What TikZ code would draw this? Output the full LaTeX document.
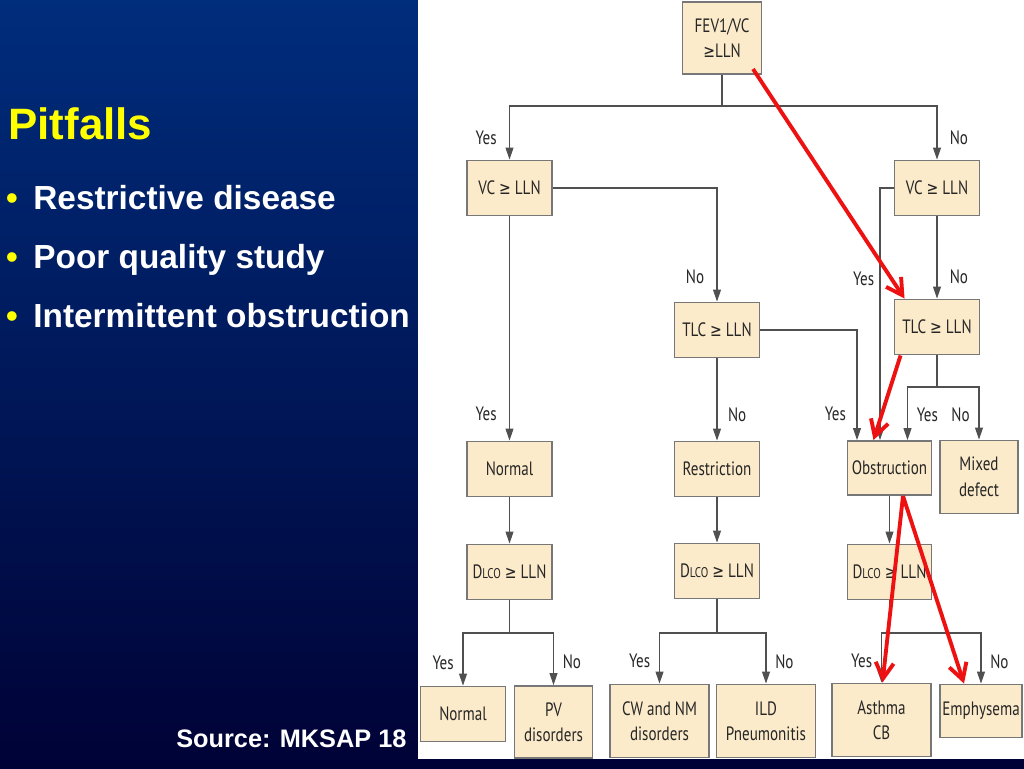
\documentclass[tikz,border=0pt]{standalone}
\usepackage{fontspec}
\setmainfont{Liberation Sans}
\newfontfamily\chartfont[FakeStretch=0.78]{PT Sans}
\newfontfamily\symfont[FakeStretch=0.8]{DejaVu Sans}
\usetikzlibrary{arrows.meta,positioning,calc}
\definecolor{SlideTop}{HTML}{002D7C}
\definecolor{SlideMid}{HTML}{001655}
\definecolor{SlideBottom}{HTML}{000236}
\definecolor{ChartFill}{HTML}{FCEBCA}
\definecolor{ChartEdge}{HTML}{777777}
\definecolor{ChartLine}{HTML}{505050}
\definecolor{PathRed}{HTML}{EE1111}
\definecolor{TitleYellow}{HTML}{FFFF00}
\newcommand{\dlco}{D{\fontsize{8}{9}\selectfont LCO}}
\newcommand{\atleast}{{\symfont\fontsize{10}{12}\selectfont ≥}}

\begin{document}
\begin{tikzpicture}[
  x=0.02cm,y=-0.02cm,
  box/.style={draw=ChartEdge,line width=1.1pt,fill=ChartFill,
    minimum width=1.7cm,minimum height=1.1cm,align=center,inner sep=1pt,
    font=\chartfont\fontsize{11}{14.5}\selectfont,text=black!85},
  lab/.style={font=\chartfont\fontsize{11}{12}\selectfont,
    text=black!85,inner sep=2pt},
  link/.style={draw=ChartLine,line width=0.6pt},
  arr/.style={link,-{Triangle[length=2.4mm,width=1.6mm]}},
  hit/.style={draw=PathRed,line width=2.2pt,
    -{Straight Barb[length=3.2mm,width=3.6mm]}},
  slidetext/.style={anchor=base west,inner sep=0,text=white,
    font=\bfseries\fontsize{19}{23}\selectfont},
  dot/.style={anchor=base,inner sep=0,text=TitleYellow,
    font=\bfseries\fontsize{19}{23}\selectfont}
]
\useasboundingbox (0,0) rectangle (1024,768);
\shade[top color=SlideTop,middle color=SlideMid,bottom color=SlideBottom]
  (0,0) rectangle (1024,768);
\fill[white] (418,0) rectangle (1024,759);

% slide text
\node[anchor=base west,inner sep=0,text=TitleYellow,
  font=\bfseries\fontsize{25}{30}\selectfont] (title) at (8,139) {Pitfalls};
\node[dot] (dotA) at (12,209) {•};
\node[slidetext] (itemA) at (33,209) {Restrictive disease};
\node[dot] (dotB) at (12,268) {•};
\node[slidetext] (itemB) at (33,268) {Poor quality study};
\node[dot] (dotC) at (12,327) {•};
\node[slidetext] (itemC) at (33,327) {Intermittent obstruction};
\node[slidetext,font=\bfseries\fontsize{14.4}{17}\selectfont]
  (source) at (176,747) {Source: MKSAP 18};

% flow chart
\node[box,minimum width=1.58cm,minimum height=1.44cm] (fev) at (722,38)
  {FEV1/VC\\\atleast LLN};
\node[box] (vcL) at (509.5,188) {VC \atleast{} LLN};
\node[box] (vcR) at (937,188) {VC \atleast{} LLN};
\node[box] (tlcM) at (717,330) {TLC \atleast{} LLN};
\node[box] (tlcR) at (937,327) {TLC \atleast{} LLN};
\node[box] (normA) at (509.5,469) {Normal};
\node[box] (restr) at (717,469) {Restriction};
\node[box,minimum width=1.68cm,minimum height=1.08cm] (obstr) at (889.5,468)
  {Obstruction};
\node[box,minimum width=1.56cm,minimum height=1.46cm] (mixed) at (979,477)
  {Mixed\\defect};
\node[box] (dlcoL) at (509.5,572) {\dlco{} \atleast{} LLN};
\node[box] (dlcoM) at (717,571) {\dlco{} \atleast{} LLN};
\node[box,minimum width=1.68cm] (dlcoR) at (889.5,572) {\dlco{} \atleast{} LLN};
\node[box] (normB) at (463,714) {Normal};
\node[box,minimum width=1.56cm,minimum height=1.44cm] (pv) at (553.5,722)
  {PV\\disorders};
\node[box,minimum width=1.98cm,minimum height=1.46cm] (cwnm) at (659.5,721)
  {CW and NM\\disorders};
\node[box,minimum width=1.98cm,minimum height=1.46cm] (ild) at (766,721)
  {ILD\\Pneumonitis};
\node[box,minimum width=1.98cm,minimum height=1.46cm] (asthma) at (881.5,720)
  {Asthma\\CB};
\node[box,minimum width=1.64cm,minimum height=1.06cm] (emph) at (981,711)
  {Emphysema};

\coordinate (splitA) at (722,106);
\draw[link] (fev) -- (splitA);
\draw[arr] (splitA) -| node[lab,pos=.8,left=5pt] {Yes} (vcL);
\draw[arr] (splitA) -| node[lab,pos=.8,right=5pt] {No} (vcR);

\draw[arr] (vcL.east) -| node[lab,pos=.89,left=5pt] {No} (tlcM);
\draw[arr] (vcL) -- node[lab,pos=.88,left=5pt] {Yes} (normA);
\draw[arr] (vcR.west) -| node[lab,pos=.68,left=1pt] {Yes}
  ([xshift=-0.19cm]obstr.north);
\draw[arr] (vcR) -- node[lab,pos=.73,right=5pt] {No} (tlcR);

\draw[arr] (tlcM.east) -| node[lab,pos=.88,left=4pt] {Yes}
  ([xshift=-0.65cm]obstr.north);
\draw[arr] (tlcM) -- node[lab,pos=.68,right=4pt] {No} (restr);
\coordinate (splitB) at (937,387);
\draw[link] (tlcR) -- (splitB);
\draw[arr] (splitB) -| node[lab,pos=.76,right=3pt] {Yes}
  ([xshift=0.36cm]obstr.north);
\draw[arr] (splitB) -| node[lab,pos=.76,left=3pt] {No} (mixed);

\draw[arr] (normA) -- (dlcoL);
\draw[arr] (restr) -- (dlcoM);
\draw[arr] (obstr) -- (dlcoR);

\coordinate (splitC) at (509.5,633);
\draw[link] (dlcoL) -- (splitC);
\draw[arr] (splitC) -| node[lab,pos=.78,left=3pt] {Yes} (normB);
\draw[arr] (splitC) -| node[lab,pos=.78,right=3pt] {No} (pv);
\coordinate (splitD) at (717,633);
\draw[link] (dlcoM) -- (splitD);
\draw[arr] (splitD) -| node[lab,pos=.78,left=3pt] {Yes} (cwnm);
\draw[arr] (splitD) -| node[lab,pos=.78,right=3pt] {No} (ild);
\coordinate (splitE) at (889.5,633);
\draw[link] (dlcoR) -- (splitE);
\draw[arr] (splitE) -| node[lab,pos=.78,left=3pt] {Yes} (asthma);
\draw[arr] (splitE) -| node[lab,pos=.78,right=3pt] {No} (emph);

% highlighted path
\coordinate (hitStart) at (753,69);
\draw[hit] (hitStart) -- ([xshift=0.22cm]tlcR.north west);
\draw[hit] ([xshift=0.14cm]tlcR.south west) -- ([xshift=-0.32cm]obstr.north);
\draw[hit] ([xshift=0.27cm]obstr.south) -- ([xshift=0.02cm]asthma.north);
\draw[hit] ([xshift=0.27cm]obstr.south) -- ([xshift=-0.34cm]emph.north);
\end{tikzpicture}
\end{document}
